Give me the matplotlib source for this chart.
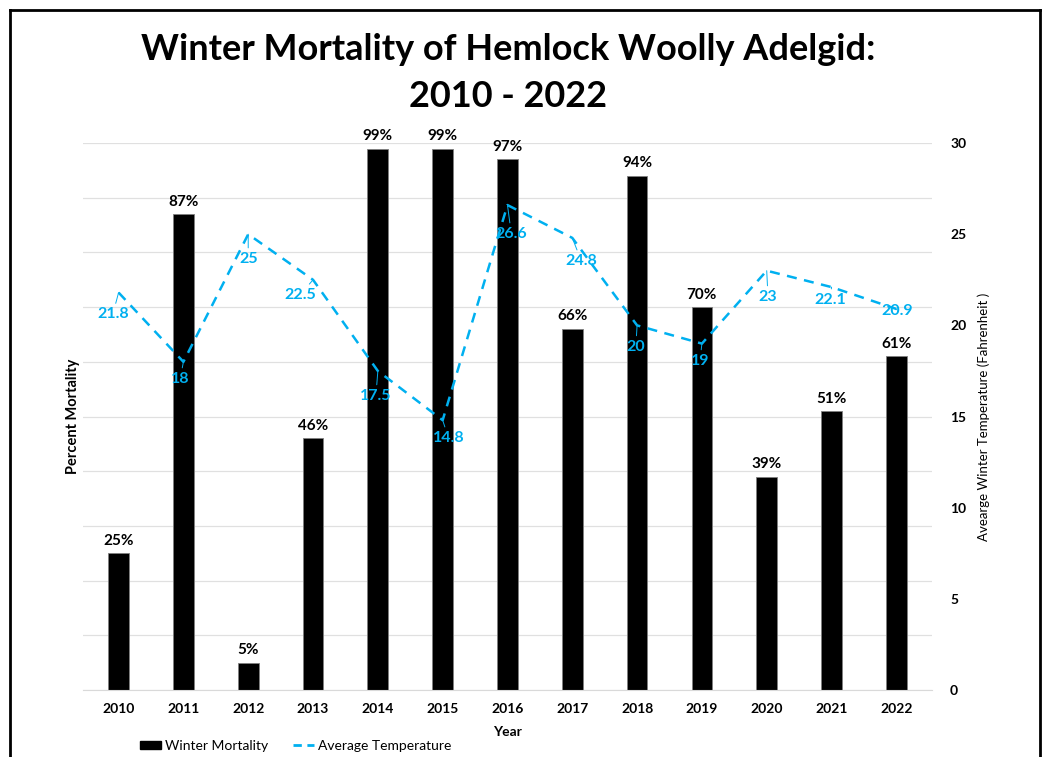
import matplotlib
matplotlib.use("Agg")
import matplotlib.pyplot as plt
from matplotlib.patches import Rectangle
from matplotlib.lines import Line2D

# ---- data ----
years = ["2010", "2011", "2012", "2013", "2014", "2015", "2016",
         "2017", "2018", "2019", "2020", "2021", "2022"]
mortality = [25, 87, 5, 46, 99, 99, 97, 66, 94, 70, 39, 51, 61]
temperature = [21.8, 18, 25, 22.5, 17.5, 14.8, 26.6, 24.8, 20, 19, 23, 22.1, 20.9]
right_ticks = [0, 5, 10, 15, 20, 25, 30]

# label placement (x offset in categories, y position in temperature units)
temp_label_dx = [-0.09, -0.05, 0.0, -0.2, -0.03, 0.09, 0.06, 0.14, -0.02, -0.03, 0.02, -0.02, 0.02]
temp_label_y = [20.6, 17.06, 23.64, 21.67, 16.13, 13.82, 25.01, 23.53, 18.82, 18.05, 21.56, 21.39, 20.79]

FONT = "Lato"
BLUE = "#00B0F0"

fig = plt.figure(figsize=(10.46, 7.57), dpi=100)
ax = fig.add_axes([0.0793, 0.0885, 0.8117, 0.7225])
ax2 = ax.twinx()

x = list(range(len(years)))
ax.bar(x, mortality, width=0.32, color="black", edgecolor="#7f7f7f", linewidth=0.6, zorder=2)
for xi, m in zip(x, mortality):
    ax.annotate(f"{m}%", (xi, m), xytext=(0, 4), textcoords="offset points",
                ha="center", va="bottom", fontsize=11, fontweight="bold",
                family=FONT, color="black")

ax.set_xlim(-0.55, len(years) - 0.45)
ax.set_ylim(0, 100)
ax.set_yticks(range(0, 101, 10))
ax.yaxis.grid(True, color="#e0e0e0", linewidth=0.9, zorder=0)
ax.set_axisbelow(True)
ax.tick_params(axis="y", length=0, labelleft=False)
ax.tick_params(axis="x", length=0, pad=9)
ax.set_xticks(x)
ax.set_xticklabels(years, fontsize=10, fontweight="bold", family=FONT)
for s in ["top", "left", "right"]:
    ax.spines[s].set_visible(False)
ax.spines["bottom"].set_color("#d9d9d9")
ax.set_ylabel("Percent Mortality", fontsize=10.5, fontweight="bold", family=FONT, labelpad=2)
ax.set_xlabel("Year", fontsize=10, fontweight="bold", family=FONT, labelpad=8)

ax2.plot(x, temperature, color=BLUE, linestyle=(0, (4, 3)), linewidth=1.8, zorder=3)
ax2.set_ylim(0, 30)
ax2.set_yticks(right_ticks)
ax2.set_yticklabels([str(t) for t in right_ticks], fontsize=10, fontweight="bold", family=FONT)
ax2.tick_params(axis="y", length=0, pad=13)
for s in ["top", "left", "right", "bottom"]:
    ax2.spines[s].set_visible(False)
ax2.set_ylabel("Avearge Winter Temperature (Fahrenheit )", fontsize=9.5, family=FONT, labelpad=8)

for xi, t, dx, ly in zip(x, temperature, temp_label_dx, temp_label_y):
    lbl = f"{t:g}"
    ax2.annotate(lbl, xy=(xi, t), xytext=(xi + dx, ly), textcoords="data",
                 ha="center", va="center", fontsize=11.5, fontweight="bold",
                 family=FONT, color=BLUE,
                 arrowprops=dict(arrowstyle="-", color=BLUE, lw=0.7,
                                 shrinkA=1, shrinkB=0))

fig.text(0.486, 0.934, "Winter Mortality of Hemlock Woolly Adelgid:", ha="center", va="center",
         fontsize=26, fontweight="bold", family=FONT)
fig.text(0.486, 0.872, "2010 - 2022", ha="center", va="center",
         fontsize=26, fontweight="bold", family=FONT)

handles = [Rectangle((0, 0), 1, 1, color="black"),
           Line2D([0], [0], color=BLUE, linestyle=(0, (3, 2)), linewidth=2)]
fig.legend(handles, ["Winter Mortality", "Average Temperature"], loc="center",
           bbox_to_anchor=(0.283, 0.015), ncol=2, frameon=False,
           prop={"family": FONT, "size": 10}, handlelength=1.5, handleheight=0.5,
           columnspacing=1.8, handletextpad=0.3)

# figure frame (open at bottom)
fig.add_artist(Line2D([10 / 1046, 10 / 1046], [0, 1 - 10 / 757], color="black", lw=2, transform=fig.transFigure))
fig.add_artist(Line2D([1040 / 1046, 1040 / 1046], [0, 1 - 10 / 757], color="black", lw=2, transform=fig.transFigure))
fig.add_artist(Line2D([10 / 1046, 1040 / 1046], [1 - 10 / 757, 1 - 10 / 757], color="black", lw=2, transform=fig.transFigure))

fig.savefig("out.png", dpi=100)
